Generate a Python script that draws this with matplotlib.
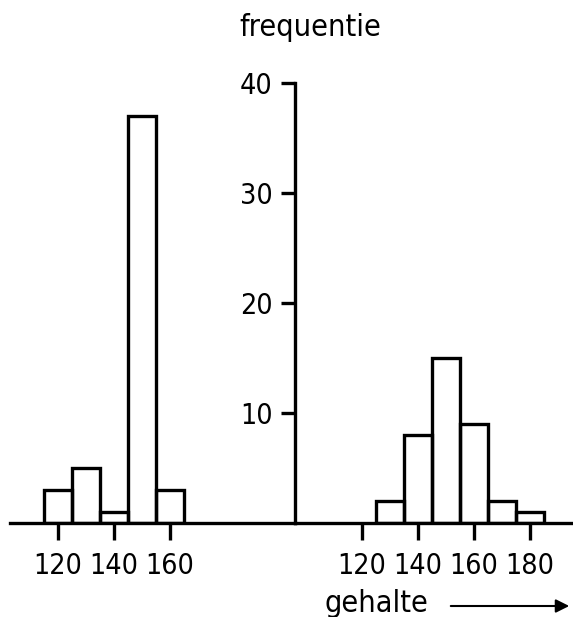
import matplotlib
matplotlib.use("Agg")
from matplotlib import pyplot as plt
from matplotlib.patches import FancyArrowPatch

# data
left_centers = [120, 130, 140, 150, 160]
left_counts = [3, 5, 1, 37, 3]
right_centers = [130, 140, 150, 160, 170, 180]
right_counts = [2, 8, 15, 9, 2, 1]
x_ticks_left = [120, 140, 160]
x_ticks_right = [120, 140, 160, 180]
y_ticks = [10, 20, 30, 40]

plt.rcParams['font.family'] = ['DejaVu Sans']
plt.rcParams['font.stretch'] = 'condensed'
plt.rcParams['font.size'] = 20.5

W, H = 573, 617
fig = plt.figure(figsize=(W / 100, H / 100), dpi=100)

bot = (H - 523) / H
hgt = 440 / H
ax1 = fig.add_axes([10 / W, bot, 285 / W, hgt])
ax2 = fig.add_axes([295 / W, bot, 278 / W, hgt])

lw = 2.4
ax1.bar(left_centers, left_counts, width=10, fill=False, edgecolor="black", linewidth=lw)
ax2.bar(right_centers, right_counts, width=10, fill=False, edgecolor="black", linewidth=lw)

ax1.set_xlim(102.86, 204.6)
ax2.set_xlim(96.07, 195.4)
for ax in (ax1, ax2):
    ax.set_ylim(0, 40)
    ax.patch.set_visible(False)
    for s in ("top", "right"):
        ax.spines[s].set_visible(False)
    ax.spines["bottom"].set_linewidth(lw)
    ax.tick_params(axis="x", direction="out", length=12, width=lw, pad=9)

ax1.spines["left"].set_visible(False)
ax1.set_yticks([])
ax1.set_xticks(x_ticks_left)

ax2.spines["left"].set_linewidth(lw)
ax2.set_xticks(x_ticks_right)
ax2.set_yticks(y_ticks)
ax2.tick_params(axis="y", direction="out", length=10, width=lw, pad=6)

fig.text(310 / W, 1 - 27 / H, "frequentie", ha="center", va="center", fontsize=22)
fig.text(325 / W, (H - 612) / H, "gehalte", ha="left", va="baseline", fontsize=22)
fig.add_artist(FancyArrowPatch(
    (448 / W, 1 - 606 / H), (572 / W, 1 - 606 / H), transform=fig.transFigure,
    arrowstyle="-|>", mutation_scale=20, color="black", linewidth=1.5))

plt.savefig("out.png", dpi=100)
